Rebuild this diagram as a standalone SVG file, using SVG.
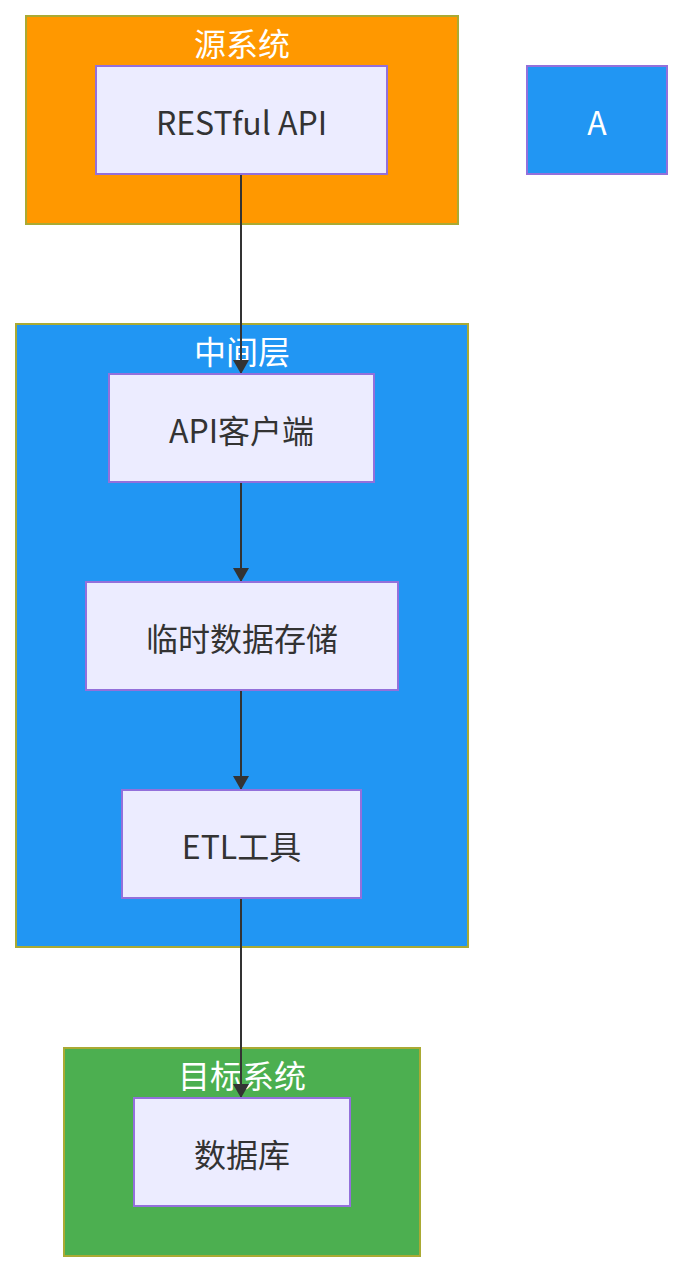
<svg xmlns="http://www.w3.org/2000/svg" width="683" height="1272" viewBox="0 0 683 1272">
<style>
.cluster{stroke:#aaaa33;stroke-width:2}
.node rect{fill:#ececff;stroke:#9370db;stroke-width:2}
.node text{fill:#333333;font-family:"Noto Sans CJK SC","Noto Sans",sans-serif;font-size:32px;text-anchor:middle;dominant-baseline:central}
.ctitle{fill:#ffffff;font-family:"Noto Sans CJK SC","Noto Sans",sans-serif;font-size:32px;text-anchor:middle;dominant-baseline:central}
.edge{stroke:#333333;stroke-width:2;fill:none}
</style>
<defs>
<marker id="arrow" viewBox="0 0 14 16" refX="14" refY="8" markerWidth="14" markerHeight="16" markerUnits="userSpaceOnUse" orient="auto">
<path d="M0,0 L14,8 L0,16 z" fill="#333333"/>
</marker>
</defs>
<rect width="683" height="1272" fill="#ffffff"/>
<g id="clusters">
<g id="cluster-source"><rect class="cluster" x="26" y="16" width="432" height="208" fill="#ff9800"/><text class="ctitle" x="242" y="42">源系统</text></g>
<g id="cluster-middle"><rect class="cluster" x="16" y="324" width="452" height="623" fill="#2196f3"/><text class="ctitle" x="242" y="350">中间层</text></g>
<g id="cluster-target"><rect class="cluster" x="64" y="1048" width="356" height="208" fill="#4caf50"/><text class="ctitle" x="242" y="1074">目标系统</text></g>
</g>
<g id="connectors">
<line class="edge" x1="241" y1="174" x2="241" y2="374" marker-end="url(#arrow)"/>
<line class="edge" x1="241" y1="482" x2="241" y2="582" marker-end="url(#arrow)"/>
<line class="edge" x1="241" y1="690" x2="241" y2="790" marker-end="url(#arrow)"/>
<line class="edge" x1="241" y1="898" x2="241" y2="1098" marker-end="url(#arrow)"/>
</g>
<g id="node-restful" class="node"><rect x="96" y="66" width="291" height="108"/><text x="241.5" y="121">RESTful API</text></g>
<g id="node-A" class="node"><rect x="527" y="66" width="140" height="108" style="fill:#2196f3"/><text x="597" y="121" style="fill:#ffffff">A</text></g>
<g id="node-client" class="node"><rect x="109" y="374" width="265" height="108"/><text x="241.5" y="429">API客户端</text></g>
<g id="node-temp" class="node"><rect x="86" y="582" width="312" height="108"/><text x="242" y="637">临时数据存储</text></g>
<g id="node-etl" class="node"><rect x="122" y="790" width="239" height="108"/><text x="241.5" y="845">ETL工具</text></g>
<g id="node-db" class="node"><rect x="134" y="1098" width="216" height="108"/><text x="242" y="1153">数据库</text></g>
</svg>
